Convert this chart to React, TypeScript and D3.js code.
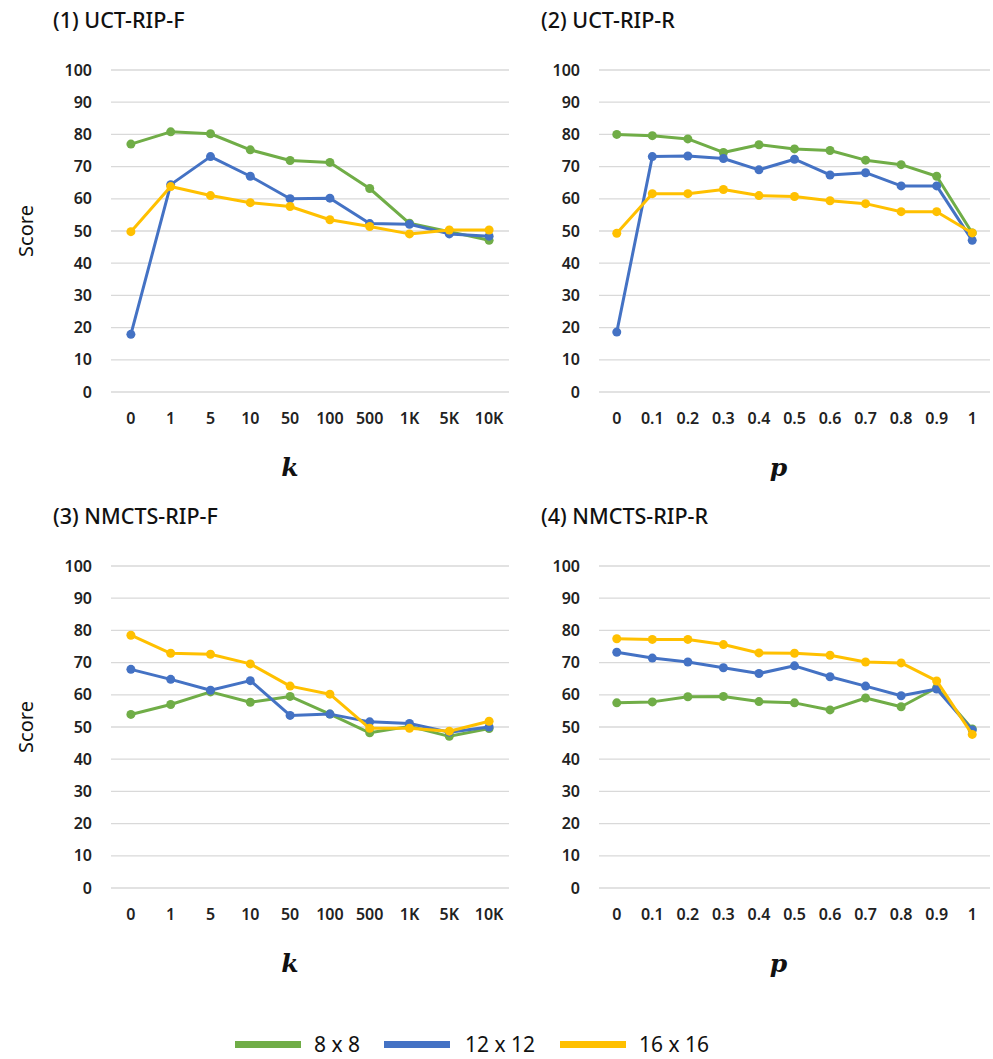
import * as d3 from "d3";

const kLabels = ["0", "1", "5", "10", "50", "100", "500", "1K", "5K", "10K"];
const pLabels = ["0", "0.1", "0.2", "0.3", "0.4", "0.5", "0.6", "0.7", "0.8", "0.9", "1"];
const yTicks = [0, 10, 20, 30, 40, 50, 60, 70, 80, 90, 100];

const seriesNames = ["8 x 8", "12 x 12", "16 x 16"];
const seriesColors = ["#70AD47", "#4472C4", "#FFC000"];

// (1) UCT-RIP-F
const uctF8 = [77.0, 80.8, 80.2, 75.2, 71.9, 71.3, 63.2, 52.4, 49.8, 47.1];
const uctF12 = [17.9, 64.4, 73.1, 67.0, 60.0, 60.2, 52.3, 52.1, 49.1, 48.4];
const uctF16 = [49.8, 63.8, 61.0, 58.8, 57.6, 53.5, 51.4, 49.1, 50.3, 50.3];

// (2) UCT-RIP-R
const uctR8 = [80.0, 79.6, 78.6, 74.4, 76.8, 75.5, 75.0, 72.0, 70.6, 67.0, 49.4];
const uctR12 = [18.6, 73.1, 73.3, 72.5, 69.0, 72.3, 67.4, 68.1, 64.0, 64.0, 47.1];
const uctR16 = [49.3, 61.6, 61.6, 62.9, 61.0, 60.7, 59.4, 58.5, 56.0, 56.0, 49.4];

// (3) NMCTS-RIP-F
const nmF8 = [53.9, 57.0, 60.9, 57.7, 59.5, 54.0, 48.2, 50.2, 47.1, 49.5];
const nmF12 = [67.9, 64.8, 61.4, 64.4, 53.6, 54.0, 51.6, 51.1, 48.4, 50.0];
const nmF16 = [78.5, 72.9, 72.6, 69.6, 62.7, 60.2, 49.6, 49.6, 48.7, 51.8];

// (4) NMCTS-RIP-R
const nmR8 = [57.5, 57.8, 59.4, 59.5, 57.9, 57.5, 55.3, 59.0, 56.3, 62.2, 49.4];
const nmR12 = [73.2, 71.4, 70.2, 68.4, 66.6, 69.0, 65.6, 62.7, 59.7, 61.8, 49.1];
const nmR16 = [77.4, 77.2, 77.2, 75.6, 73.0, 72.9, 72.3, 70.2, 69.9, 64.3, 47.7];

const FONT = "'Noto Sans', 'Open Sans', sans-serif";

function Panel({ title, labels, series, axisName, x0, y0, showScore, left, right, axisShift }) {
  const top = y0 + 70;
  const bottom = y0 + 392;
  const x = d3.scalePoint().domain(labels).range([left, right]).padding(0.5);
  const y = d3.scaleLinear().domain([0, 100]).range([bottom, top]);
  const line = d3
    .line<number>()
    .x((_, i) => x(labels[i]))
    .y((d) => y(d));

  return (
    <g>
      <text x={x0} y={y0 + 28} fontSize={21.5} fontWeight={500} fill="#111" fontFamily={FONT}>
        {title}
      </text>
      {showScore && (
        <text
          transform={`translate(${x0 - 20},${(top + bottom) / 2}) rotate(-90)`}
          textAnchor="middle"
          fontSize={20}
          fill="#111"
          fontFamily={FONT}
        >
          Score
        </text>
      )}
      {yTicks.map((t) => (
        <g key={t}>
          <line x1={left} x2={right} y1={y(t)} y2={y(t)} stroke="#d9d9d9" strokeWidth={1.3} />
          <text
            x={left - 19}
            y={y(t)}
            dy="0.35em"
            textAnchor="end"
            fontSize={16}
            fontWeight={600}
            fill="#222"
            fontFamily={FONT}
          >
            {t}
          </text>
        </g>
      ))}
      {labels.map((l) => (
        <text
          key={l}
          x={x(l)}
          y={bottom + 26}
          dy="0.35em"
          textAnchor="middle"
          fontSize={16}
          fontWeight={600}
          fill="#222"
          fontFamily={FONT}
        >
          {l}
        </text>
      ))}
      <text
        x={(left + right) / 2 + axisShift}
        y={bottom + 84}
        textAnchor="middle"
        fontSize={25}
        fontStyle="italic"
        fontWeight={600}
        fill="#111"
        fontFamily="'DejaVu Serif', 'Liberation Serif', serif"
      >
        {axisName}
      </text>
      {series.map((s, si) => (
        <g key={si}>
          <path d={line(s) || ""} fill="none" stroke={seriesColors[si]} strokeWidth={3} strokeLinejoin="round" />
          {s.map((v, i) => (
            <circle key={i} cx={x(labels[i])} cy={y(v)} r={4.5} fill={seriesColors[si]} />
          ))}
        </g>
      ))}
    </g>
  );
}

export default function App() {
  const legendItems = [
    { x: 235, tx: 314 },
    { x: 384, tx: 465 },
    { x: 560, tx: 639 },
  ];
  return (
    <svg width={993} height={1059} style={{ position: "absolute", left: 0, top: 0 }}>
      <rect width={993} height={1059} fill="#fff" />
      <Panel
        title="(1) UCT-RIP-F"
        labels={kLabels}
        series={[uctF8, uctF12, uctF16]}
        axisName="k"
        x0={53}
        y0={0}
        showScore
        left={111}
        right={509}
        axisShift={-20}
      />
      <Panel
        title="(2) UCT-RIP-R"
        labels={pLabels}
        series={[uctR8, uctR12, uctR16]}
        axisName="p"
        x0={541}
        y0={0}
        showScore={false}
        left={599}
        right={990}
        axisShift={-16}
      />
      <Panel
        title="(3) NMCTS-RIP-F"
        labels={kLabels}
        series={[nmF8, nmF12, nmF16]}
        axisName="k"
        x0={53}
        y0={496}
        showScore
        left={111}
        right={509}
        axisShift={-20}
      />
      <Panel
        title="(4) NMCTS-RIP-R"
        labels={pLabels}
        series={[nmR8, nmR12, nmR16]}
        axisName="p"
        x0={541}
        y0={496}
        showScore={false}
        left={599}
        right={990}
        axisShift={-16}
      />
      {seriesNames.map((n, i) => (
        <g key={n}>
          <rect x={legendItems[i].x} y={1041} width={66} height={7} fill={seriesColors[i]} />
          <text x={legendItems[i].tx} y={1045} dy="0.35em" fontSize={21} fill="#111" fontFamily={FONT}>
            {n}
          </text>
        </g>
      ))}
    </svg>
  );
}
